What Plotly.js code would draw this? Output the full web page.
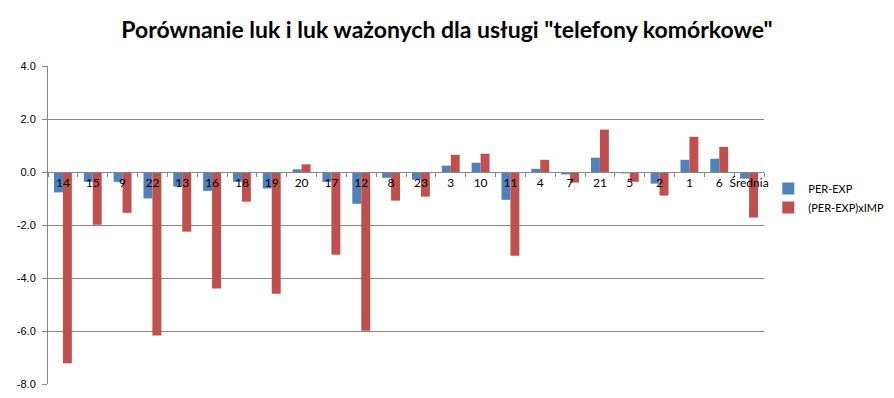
<!DOCTYPE html>
<html>
<head>
<meta charset="utf-8">
<script src="https://cdn.plot.ly/plotly-3.0.1.min.js"></script>
<style>html,body{margin:0;padding:0;background:#fff;}#chart{width:894px;height:398px;}</style>
</head>
<body>
<div id="chart"></div>
<script>
const categories = ["14","15","9","22","13","16","18","19","20","17","12","8","23","3","10","11","4","7","21","5","2","1","6","Średnia"];
const perExp = [-0.77,-0.37,-0.37,-1.00,-0.55,-0.71,-0.37,-0.62,0.10,-0.37,-1.20,-0.22,-0.29,0.24,0.35,-1.05,0.12,-0.09,0.54,-0.05,-0.44,0.46,0.50,-0.25];
const perExpImp = [-7.22,-1.99,-1.54,-6.17,-2.25,-4.40,-1.12,-4.59,0.29,-3.12,-5.99,-1.08,-0.93,0.65,0.69,-3.16,0.46,-0.40,1.60,-0.37,-0.89,1.33,0.95,-1.72];
const yTicks = [4,2,0,-2,-4,-6,-8];
const yTickText = ["4.0","2.0","0.0","-2.0","-4.0","-6.0","-8.0"];

const font = "Lato, 'Open Sans', sans-serif";
const data = [
  {type:"bar", name:"PER-EXP", x:categories, y:perExp, marker:{color:"#4F81BD"}},
  {type:"bar", name:"(PER-EXP)xIMP", x:categories, y:perExpImp, marker:{color:"#C0504D"}}
];
const layout = {
  width:894, height:398,
  margin:{l:48, r:130, t:66, b:14, autoexpand:false},
  paper_bgcolor:"#fff", plot_bgcolor:"#fff",
  font:{family:font, size:11, color:"#000"},
  title:{text:'Porównanie luk i luk ważonych dla usługi "telefony komórkowe"', font:{family:font, size:23, color:"#000", weight:"bold"}, x:0.5, xanchor:"center", y:0.925, yanchor:"middle"},
  barmode:"group", bargap:0.4, bargroupgap:0,
  showlegend:true,
  legend:{x:1.006, xanchor:"left", y:0.585, yanchor:"middle", font:{size:11, color:"#000"}, bgcolor:"rgba(0,0,0,0)", tracegroupgap:0},
  xaxis:{type:"category", anchor:"free", position:8/12, showline:true, linecolor:"#868686", linewidth:1,
         ticks:"outside", ticklen:4, tickcolor:"#868686", tickson:"boundaries", showgrid:false, zeroline:false,
         tickangle:0, tickfont:{size:12, color:"#000"}, fixedrange:true},
  yaxis:{range:[-8,4], tickvals:yTicks, ticktext:yTickText, showgrid:true, gridcolor:"#868686", gridwidth:1,
         zeroline:true, zerolinecolor:"#868686", showline:true, linecolor:"#868686", ticks:"outside", ticklen:5, tickcolor:"#868686",
         tickfont:{family:"'Liberation Sans', Arial, sans-serif", size:11, color:"#000"}, ticklabelstandoff:4}
};
Plotly.newPlot("chart", data, layout, {displayModeBar:false, staticPlot:true});
</script>
</body>
</html>
